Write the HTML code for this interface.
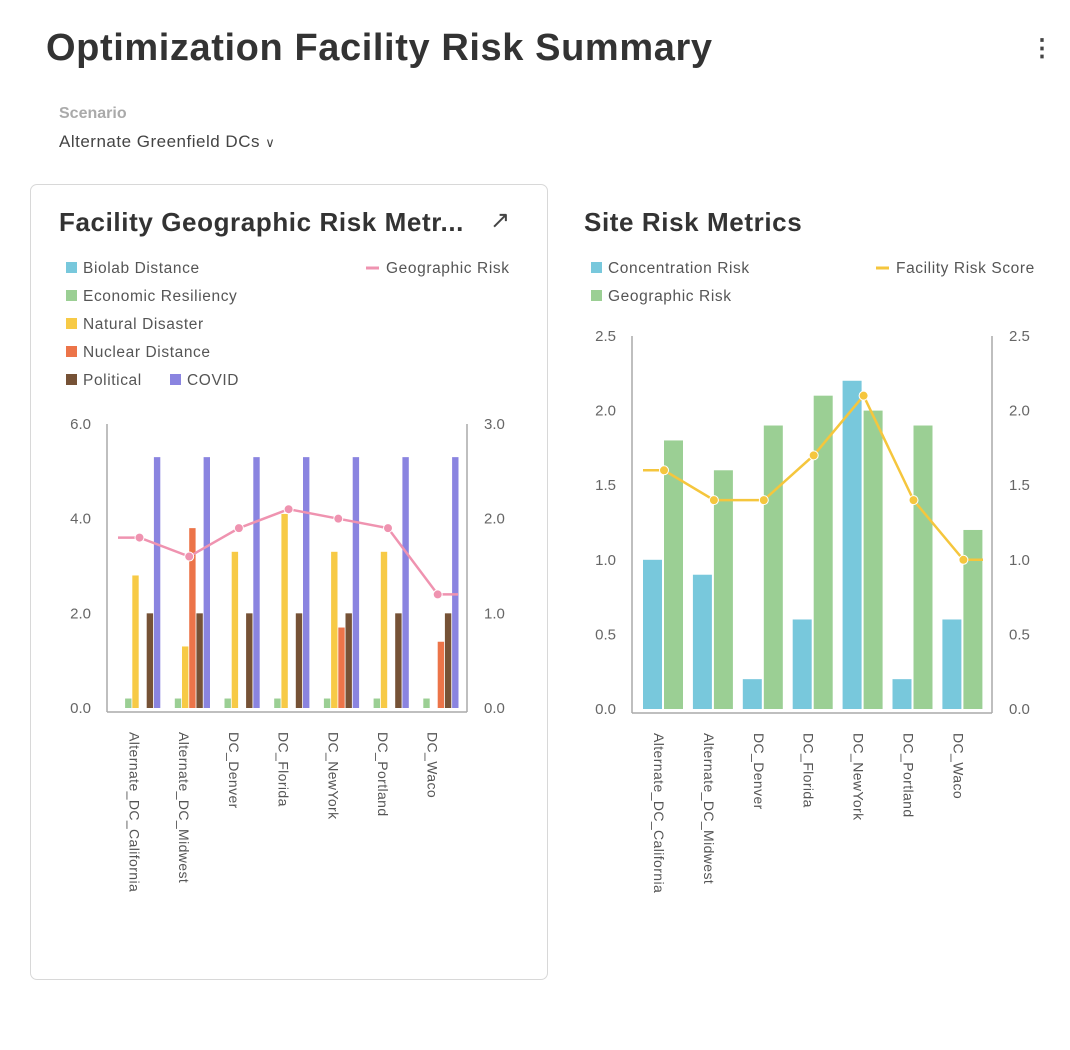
<!DOCTYPE html>
<html><head><meta charset="utf-8">
<style>
body{margin:0;width:1070px;height:1050px;background:#fff;font-family:"Liberation Sans",sans-serif;overflow:hidden;position:relative}
.t{position:absolute}
svg text{font-family:"Liberation Sans",sans-serif}
</style></head>
<body>
<div class="t" style="left:46px;top:27px;font-size:38px;letter-spacing:0.6px;font-weight:bold;color:#333">Optimization Facility Risk Summary</div>
<div class="t" style="left:1030px;top:34px;font-size:24px;color:#444;font-weight:bold">⋮</div>
<div class="t" style="left:59px;top:105px;font-size:16px;color:#aaa;font-weight:bold">Scenario</div>
<div class="t" style="left:59px;top:132px;font-size:17px;letter-spacing:0.5px;color:#444">Alternate Greenfield DCs <span style="font-size:13px">&#x2228;</span></div>
<div class="t" style="left:30px;top:184px;width:516px;height:794px;border:1px solid #d8d8d8;border-radius:7px"></div>
<div class="t" style="left:59px;top:207px;font-size:26px;letter-spacing:0.6px;font-weight:bold;color:#333">Facility Geographic Risk Metr...</div>
<div class="t" style="left:490px;top:206px;font-size:24px;color:#444">&#x2197;</div>
<div class="t" style="left:584px;top:207px;font-size:26px;letter-spacing:0.6px;font-weight:bold;color:#333">Site Risk Metrics</div>
<svg id="s" width="1070" height="1050" style="position:absolute;left:0;top:0"></svg>
<script>
const cats=["Alternate_DC_California","Alternate_DC_Midwest","DC_Denver","DC_Florida","DC_NewYork","DC_Portland","DC_Waco"];
const biolab=[0,0,0,0,0,0,0];
const economic=[0.2,0.2,0.2,0.2,0.2,0.2,0.2];
const natural=[2.8,1.3,3.3,4.1,3.3,3.3,0];
const nuclear=[0,3.8,0,0,1.7,0,1.4];
const political=[2,2,2,2,2,2,2];
const covid=[5.3,5.3,5.3,5.3,5.3,5.3,5.3];
const geoRiskLine=[1.8,1.6,1.9,2.1,2.0,1.9,1.2];
const leftTicksL=["0.0","2.0","4.0","6.0"];
const leftTicksR=["0.0","1.0","2.0","3.0"];
const concentration=[1.0,0.9,0.2,0.6,2.2,0.2,0.6];
const geographic=[1.8,1.6,1.9,2.1,2.0,1.9,1.2];
const facilityScore=[1.6,1.4,1.4,1.7,2.1,1.4,1.0];
const rightTicks=["0.0","0.5","1.0","1.5","2.0","2.5"];

const S=document.getElementById('s');
function el(tag,attrs,txt){const e=document.createElementNS('http://www.w3.org/2000/svg',tag);for(const k in attrs)e.setAttribute(k,attrs[k]);if(txt!=null)e.textContent=txt;S.appendChild(e);return e;}

function sq(x,y,c,label,name){
 const r=el('rect',{x:x,y:y-6,width:11,height:11,fill:c});
 
 
 const t=el('text',{x:x+17,y:y+5,'font-size':15.5,'letter-spacing':0.6,fill:'#555'},label);
 
 
}
function ln(x,y,c,label,name){
 const r=el('rect',{x:x,y:y-1.5,width:13,height:3,fill:c});
 
 
 const t=el('text',{x:x+20,y:y+5,'font-size':15.5,'letter-spacing':0.6,fill:'#555'},label);
 
 
}
sq(66,268,'#78c8dc','Biolab Distance','legend-biolab-distance');
sq(66,296,'#9bcf94','Economic Resiliency','legend-economic-resiliency');
sq(66,324,'#f7ca46','Natural Disaster','legend-natural-disaster');
sq(66,352,'#ec7449','Nuclear Distance','legend-nuclear-distance');
sq(66,380,'#765236','Political','legend-political');
sq(170,380,'#8a84e0','COVID','legend-covid');
ln(366,268,'#ef93b0','Geographic Risk','legend-geographic-risk-line');
sq(591,268,'#78c8dc','Concentration Risk','legend-concentration-risk');
sq(591,296,'#9bcf94','Geographic Risk','legend-geographic-risk');
ln(876,268,'#f5c63d','Facility Risk Score','legend-facility-risk-score');

function chart(o){
 let a=el('line',{x1:o.x0,y1:o.top,x2:o.x0,y2:o.base+4,stroke:'#aaa','stroke-width':1.5});
 
 a=el('line',{x1:o.x1,y1:o.top,x2:o.x1,y2:o.base+4,stroke:'#aaa','stroke-width':1.5});
 
 a=el('line',{x1:o.x0,y1:o.base+4,x2:o.x1,y2:o.base+4,stroke:'#aaa','stroke-width':1.5});
 
 const yL=v=>o.base-v/o.maxL*(o.base-o.top);
 const yR=v=>o.base-v/o.maxR*(o.base-o.top);
 o.ticksL.forEach((t,i)=>{const v=o.maxL*i/(o.ticksL.length-1);
  const e=el('text',{x:o.x0-16,y:yL(v)+5,'font-size':15,fill:'#666','text-anchor':'end'},t);
  });
 o.ticksR.forEach((t,i)=>{const v=o.maxR*i/(o.ticksR.length-1);
  const e=el('text',{x:o.x1+17,y:yR(v)+5,'font-size':15,fill:'#666'},t);
  });
 const cx=i=>o.c0+i*o.band;
 const n=o.series.length;
 cats.forEach((c,i)=>{
  o.series.forEach((s,j)=>{
   const v=s.data[i]; if(v<=0)return;
   const x=cx(i)-n*o.step/2+j*o.step;
   const r=el('rect',{x:x,y:yL(v),width:o.bw,height:o.base-yL(v),fill:s.c});
   
   
  });
  const t=el('text',{transform:`translate(${cx(i)-10},${o.base+24}) rotate(90)`,'font-size':14,'letter-spacing':0.4,fill:'#555'},c);
  
  
 });
 let pts=o.line.map((v,i)=>[cx(i),yR(v)]);
 const all=[[o.lx0,pts[0][1]],...pts,[o.lx1,pts[pts.length-1][1]]];
 const p=el('polyline',{points:all.map(q=>q.join(',')).join(' '),fill:'none',stroke:o.lc,'stroke-width':2.5});
 
 
 pts.forEach((q,i)=>{const c=el('circle',{cx:q[0],cy:q[1],r:4.5,fill:o.lc,stroke:'#fff','stroke-width':1});
  
  });
}
chart({id:'left',x0:107,x1:467,top:424,base:708,maxL:6,maxR:3,ticksL:leftTicksL,ticksR:leftTicksR,
 c0:139.5,band:49.7,step:7.2,bw:6.4,lx0:118,lx1:458,lc:'#ef93b0',line:geoRiskLine,
 series:[{n:'biolab',c:'#78c8dc',data:biolab},{n:'economic',c:'#9bcf94',data:economic},{n:'natural',c:'#f7ca46',data:natural},
 {n:'nuclear',c:'#ec7449',data:nuclear},{n:'political',c:'#765236',data:political},{n:'covid',c:'#8a84e0',data:covid}]});
chart({id:'right',x0:632,x1:992,top:336,base:709,maxL:2.5,maxR:2.5,ticksL:rightTicks,ticksR:rightTicks,
 c0:664,band:49.9,step:21,bw:19,lx0:643,lx1:983,lc:'#f5c63d',line:facilityScore,
 series:[{n:'concentration',c:'#78c8dc',data:concentration},{n:'geographic',c:'#9bcf94',data:geographic}]});
</script>
</body></html>
